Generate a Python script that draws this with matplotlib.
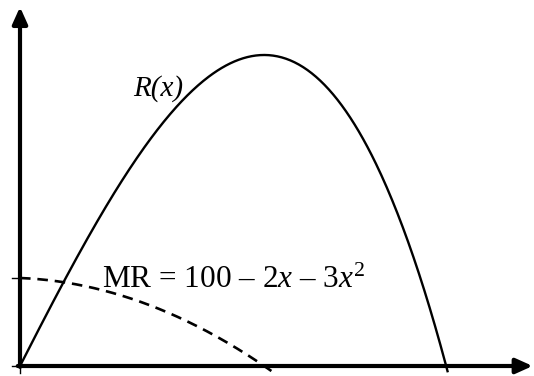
import numpy as np
import matplotlib
matplotlib.use('Agg')
import matplotlib.pyplot as plt

# Revenue R(x) = 100x - x^2 - x^3 and marginal revenue MR = 100 - 2x - 3x^2
r_coef = [-1, -1, 100, 0]
mr_coef = [-3, -2, 100]
r_domain = [0, 9.55]
mr_domain = [0, 5.62]
labels = ['R(x)', r'MR = 100 – 2$\mathit{x}$ – 3$\mathit{x}^2$']

plt.rcParams['font.family'] = 'Liberation Serif'
plt.rcParams['mathtext.fontset'] = 'custom'
plt.rcParams['mathtext.rm'] = 'Liberation Serif'
plt.rcParams['mathtext.it'] = 'Liberation Serif:italic'

fig = plt.figure(figsize=(5.34, 3.76), dpi=100)
ax = fig.add_axes([0, 0, 1, 1])
ax.set_xlim(-20 / 44.8, 514 / 44.8)
ax.set_ylim(-10 / 0.88, 366 / 0.88)
ax.axis('off')

# Curves
xr = np.linspace(r_domain[0], r_domain[1], 400)
ax.plot(xr, np.polyval(r_coef, xr), color='black', lw=1.7, solid_capstyle='butt')
xm = np.linspace(mr_domain[0], mr_domain[1], 300)
ax.plot(xm, np.polyval(mr_coef, xm), color='black', lw=1.9, dashes=(4, 2.6))

# Axes with arrows
ymax = ax.get_ylim()[1]
xmax = ax.get_xlim()[1]
arrow = dict(arrowstyle='-|>,head_length=1.0,head_width=0.45',
             color='black', lw=3, shrinkA=0, shrinkB=0)
ax.annotate('', xy=(0, ymax - 7 / 0.88), xytext=(0, -1),
            arrowprops=arrow, annotation_clip=False)
ax.annotate('', xy=(xmax - 0.03, 0), xytext=(-0.05, 0),
            arrowprops=arrow, annotation_clip=False)

# small ticks
ax.plot([-0.17, 0], [100, 100], color='black', lw=1)
ax.plot([-0.17, 0], [0, 0], color='black', lw=1)
ax.plot([0, 0], [0, -8], color='black', lw=1)

# Labels
ax.text(2.53, 307, labels[0], fontsize=21, style='italic', ha='left', va='baseline')
ax.text(1.82, 89, labels[1], fontsize=22.5, ha='left', va='baseline')

fig.savefig('out.png', dpi=100)
